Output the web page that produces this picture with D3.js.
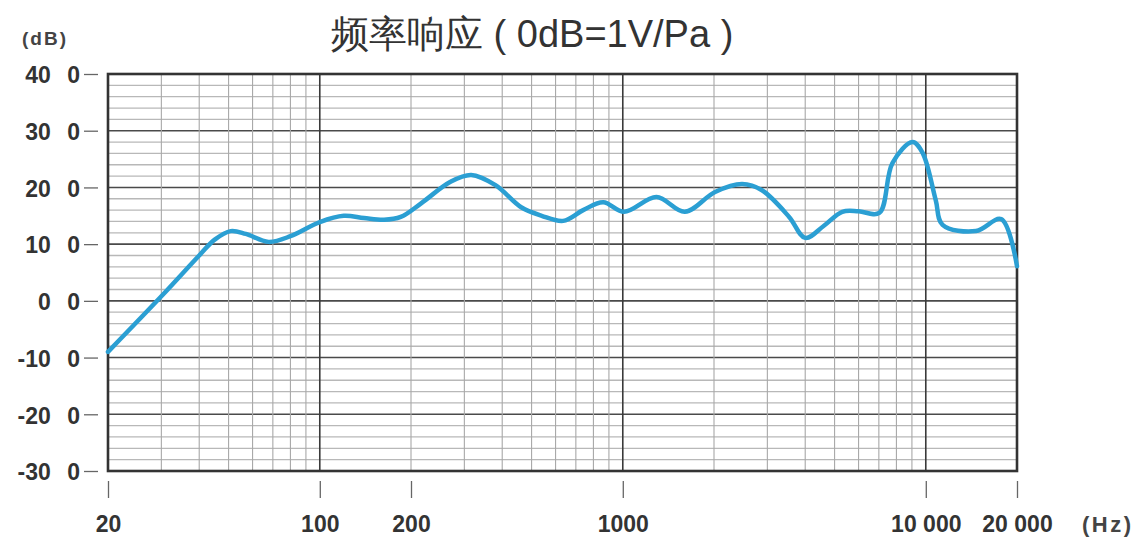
<!DOCTYPE html>
<html>
<head>
<meta charset="utf-8">
<script src="https://cdn.jsdelivr.net/npm/d3@7"></script>
<style>
  html, body { margin: 0; padding: 0; background: #fff; }
  svg { display: block; }
  text { font-family: "Liberation Sans", Arial, sans-serif; }
</style>
</head>
<body>
<svg id="chart" width="1141" height="537"></svg>
<script>
// ---- data ----
const title = "频率响应 ( 0dB=1V/Pa )";
const yUnit = "(dB)";
const xUnit = "(Hz)";

const freqs = [20, 30, 40, 45, 50.8, 57, 67.8, 80, 100, 120, 140, 163, 185, 216, 270, 316, 380, 462, 540, 636, 740, 862, 1010, 1292, 1602, 2016, 2477, 2880, 3540, 4000, 4600, 5300, 6000, 7020, 7760, 9040, 9760, 10780, 11360, 14640, 17740, 20000];
const dbValues = [-9.0, 0.8, 8.0, 10.8, 12.3, 11.8, 10.4, 11.4, 13.9, 15.0, 14.6, 14.3, 14.8, 17.2, 21.0, 22.2, 20.4, 16.5, 15.0, 14.1, 16.0, 17.4, 15.7, 18.3, 15.7, 19.2, 20.6, 19.5, 14.8, 11.1, 13.2, 15.7, 15.8, 15.5, 24.3, 28.0, 26.1, 17.8, 13.4, 12.3, 14.4, 6.1];

const yTickValues = [40, 30, 20, 10, 0, -10, -20, -30];
const yTickLabels = ["40 0", "30 0", "20 0", "10 0", "0 0", "-10 0", "-20 0", "-30 0"];
const xTickValues = [20, 100, 200, 1000, 10000, 20000];
const xTickLabels = ["20", "100", "200", "1000", "10 000", "20 000"];
const minorFreqs = [30, 40, 50, 60, 70, 80, 90, 200, 300, 400, 500, 600, 700, 800, 900, 2000, 3000, 4000, 5000, 6000, 7000, 8000, 9000];
const majorFreqs = [100, 1000, 10000];

// ---- layout ----
const svg = d3.select("#chart");
const pL = 108, pR = 1017, pT = 74, pB = 471;

const x = d3.scaleLog().domain([20, 20000]).range([pL, pR]);
const y = d3.scaleLinear().domain([-30, 40]).range([pB, pT]);

const grid = svg.append("g");
const hLines = d3.range(-28, 40, 2);
grid.selectAll("line.h").data(hLines).join("line")
  .attr("x1", pL).attr("x2", pR)
  .attr("y1", d => y(d)).attr("y2", d => y(d))
  .attr("stroke", d => d % 10 === 0 ? "#4a4a4a" : "#b8b8b8")
  .attr("stroke-width", d => d % 10 === 0 ? 1.6 : 1.3);
grid.selectAll("line.vm").data(minorFreqs).join("line")
  .attr("x1", d => x(d)).attr("x2", d => x(d))
  .attr("y1", pT).attr("y2", pB)
  .attr("stroke", "#a8a8a8").attr("stroke-width", 1.1);
grid.selectAll("line.vM").data(majorFreqs).join("line")
  .attr("x1", d => x(d)).attr("x2", d => x(d))
  .attr("y1", pT).attr("y2", pB)
  .attr("stroke", "#3a3a3a").attr("stroke-width", 1.6);

svg.append("rect")
  .attr("x", pL).attr("y", pT)
  .attr("width", pR - pL).attr("height", pB - pT)
  .attr("fill", "none").attr("stroke", "#333").attr("stroke-width", 2.6);

const yAxis = d3.axisLeft(y)
  .tickValues(yTickValues)
  .tickFormat(d => yTickLabels[yTickValues.indexOf(d)])
  .tickSize(14).tickPadding(4);
const gy = svg.append("g").attr("transform", `translate(${pL - 10},0)`).call(yAxis);
gy.select(".domain").remove();
gy.selectAll(".tick line").attr("stroke", "#666").attr("stroke-width", 1.3);
gy.selectAll(".tick text")
  .attr("fill", "#333").attr("font-size", 23).attr("font-weight", "bold")
  .style("word-spacing", "10px").attr("dy", "0.38em")
  .attr("font-family", "'Liberation Sans', Arial, sans-serif");

const xAxis = d3.axisBottom(x)
  .tickValues(xTickValues)
  .tickFormat(d => xTickLabels[xTickValues.indexOf(d)])
  .tickSize(17).tickPadding(18);
const gx = svg.append("g").attr("transform", `translate(0,${pB + 10})`).call(xAxis);
gx.select(".domain").remove();
gx.selectAll(".tick line").attr("stroke", "#666").attr("stroke-width", 1.3);
gx.selectAll(".tick text")
  .attr("fill", "#333").attr("font-size", 23).attr("font-weight", "bold")
  .attr("font-family", "'Liberation Sans', Arial, sans-serif");

const line = d3.line()
  .x((d, i) => x(freqs[i]))
  .y(d => y(d))
  .curve(d3.curveCatmullRom.alpha(0.5));
svg.append("path")
  .datum(dbValues)
  .attr("d", line)
  .attr("fill", "none")
  .attr("stroke", "#2b9fd3")
  .attr("stroke-width", 4.5)
  .attr("stroke-linejoin", "round")
  .attr("stroke-linecap", "round");

svg.append("text")
  .attr("x", 331).attr("y", 47)
  .attr("font-family", "'Noto Sans CJK SC', sans-serif")
  .attr("font-size", 38).attr("fill", "#333")
  .attr("xml:space", "preserve")
  .text(title);
svg.append("text")
  .attr("x", 22).attr("y", 45)
  .attr("font-size", 19).attr("font-weight", "bold").attr("fill", "#444")
  .attr("letter-spacing", 2)
  .text(yUnit);
svg.append("text")
  .attr("x", 1082).attr("y", 532)
  .attr("font-size", 22).attr("font-weight", "bold").attr("fill", "#444")
  .attr("letter-spacing", 2.5)
  .text(xUnit);
</script>
</body>
</html>
